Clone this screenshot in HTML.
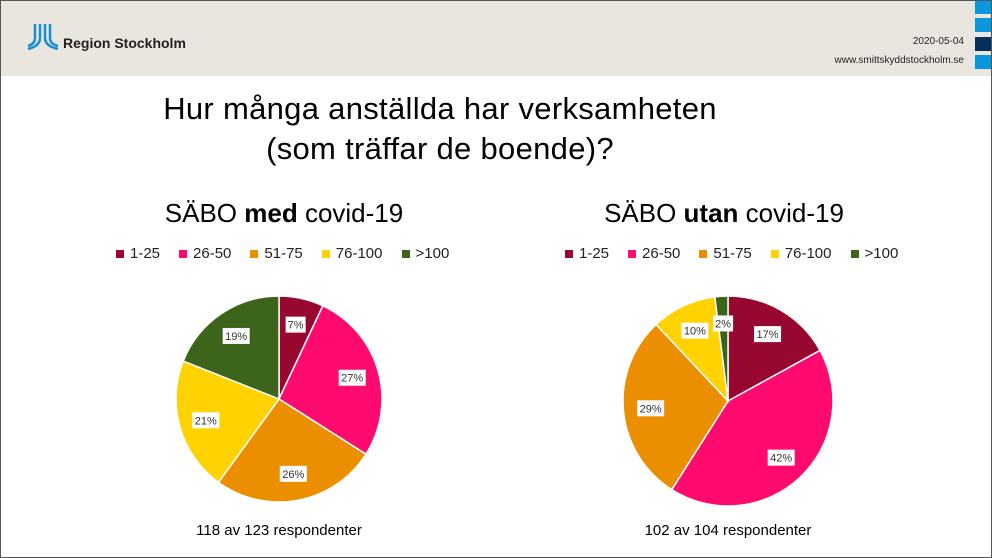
<!DOCTYPE html>
<html><head><meta charset="utf-8"><style>
body{margin:0;width:992px;height:558px;overflow:hidden;background:#fff;font-family:"Liberation Sans",sans-serif;position:relative}
.abs{position:absolute}
.frame{position:absolute;left:0;top:0;width:990px;height:556px;border:1px solid #555;pointer-events:none}
.header{left:0;top:0;width:992px;height:76px;background:#e9e5df}
.sq{position:absolute;left:975px;width:17px;height:14px;background:#0a96dc}
.title{left:0;width:880px;text-align:center;top:89px;font-size:31px;line-height:40px;color:#000;letter-spacing:0.3px}
.sub{font-size:26px;color:#000;text-align:center;width:400px}
.legend{font-size:15px;color:#222;display:flex;gap:0;white-space:nowrap}
.legend span{display:inline-flex;align-items:center;margin-right:19px}
.legend i{display:inline-block;width:8px;height:8px;margin-right:6px}
.foot{font-size:15px;color:#000;text-align:center;width:300px}
</style></head><body>
<div class="abs header"></div>
<div class="sq" style="top:0"></div>
<div class="sq" style="top:18px"></div>
<div class="sq" style="top:37px;background:#062f5c"></div>
<div class="sq" style="top:55px"></div>
<svg class="abs" style="left:26px;top:24px" width="34" height="26" viewBox="0 0 34 26">
<g fill="none" stroke="#1a8fd0" stroke-width="2.5">
<path d="M9 0 V14 Q9 20 2 22"/><path d="M14 0 V14 Q14 22 2 25"/>
<path d="M19 0 V14 Q19 22 32 25"/><path d="M24 0 V14 Q24 20 32 22"/></g></svg>
<div class="abs" style="left:63px;top:35px;font-size:14px;font-weight:bold;color:#222">Region Stockholm</div>
<div class="abs" style="right:28px;top:36px;font-size:10px;color:#222">2020-05-04</div>
<div class="abs" style="right:28px;top:55px;font-size:10px;color:#222">www.smittskyddstockholm.se</div>
<div class="abs title">Hur många anställda har verksamheten<br>(som träffar de boende)?</div>
<div class="abs sub" style="left:84px;top:198px">SÄBO <b>med</b> covid-19</div>
<div class="abs sub" style="left:524px;top:198px">SÄBO <b>utan</b> covid-19</div>
<div class="abs legend" style="left:116px;top:245px">
<span><i style="background:#97072f"></i>1-25</span><span><i style="background:#ff0a6e"></i>26-50</span><span><i style="background:#eb8f00"></i>51-75</span><span><i style="background:#ffd200"></i>76-100</span><span><i style="background:#3c641a"></i>&gt;100</span></div>
<div class="abs legend" style="left:565px;top:245px">
<span><i style="background:#97072f"></i>1-25</span><span><i style="background:#ff0a6e"></i>26-50</span><span><i style="background:#eb8f00"></i>51-75</span><span><i style="background:#ffd200"></i>76-100</span><span><i style="background:#3c641a"></i>&gt;100</span></div>
<svg id="pies" class="abs" style="left:0;top:0" width="992" height="558"></svg>
<div class="abs foot" style="left:129px;top:522px">118 av 123 respondenter</div>
<div class="abs foot" style="left:578px;top:522px">102 av 104 respondenter</div>
<div class="frame"></div>
<script>
const categories = ["1-25","26-50","51-75","76-100",">100"];
const colors = ["#97072f","#ff0a6e","#eb8f00","#ffd200","#3c641a"];
const medValues = [7,27,26,21,19];
const utanValues = [17,42,29,10,2];
const NS="http://www.w3.org/2000/svg";
const svg=document.getElementById('pies');
function drawPie(values,cx,cy,r,name){
  const g=document.createElementNS(NS,'g');
  
  
  svg.appendChild(g);
  const total=values.reduce((a,b)=>a+b,0);
  let a0=0;
  values.forEach((v,i)=>{
    const a1=a0+v/total*2*Math.PI;
    const x0=cx+r*Math.sin(a0),y0=cy-r*Math.cos(a0),x1=cx+r*Math.sin(a1),y1=cy-r*Math.cos(a1);
    const p=document.createElementNS(NS,'path');
    p.setAttribute('d',`M${cx},${cy}L${x0},${y0}A${r},${r} 0 ${a1-a0>Math.PI?1:0} 1 ${x1},${y1}Z`);
    p.setAttribute('fill',colors[i]);p.setAttribute('stroke','#fff');p.setAttribute('stroke-width','1.5');
    
    
    g.appendChild(p);
    const am=(a0+a1)/2, lr=r*0.74;
    const lx=cx+lr*Math.sin(am), ly=cy-lr*Math.cos(am);
    const txt=v+'%'; const w=txt.length*7+6;
    const rect=document.createElementNS(NS,'rect');
    rect.setAttribute('x',lx-w/2);rect.setAttribute('y',ly-8);rect.setAttribute('width',w);rect.setAttribute('height',16);rect.setAttribute('fill','#fff');
    
    
    g.appendChild(rect);
    const t=document.createElementNS(NS,'text');
    t.setAttribute('x',lx);t.setAttribute('y',ly+4);t.setAttribute('text-anchor','middle');
    t.setAttribute('font-size','11');t.setAttribute('fill','#333');t.setAttribute('font-family','Liberation Sans, sans-serif');
    t.textContent=txt;
    
    
    g.appendChild(t);
    a0=a1;
  });
}
drawPie(medValues,279,399,103,'pie-med-covid');
drawPie(utanValues,728,401,105,'pie-utan-covid');
</script>
</body></html>
